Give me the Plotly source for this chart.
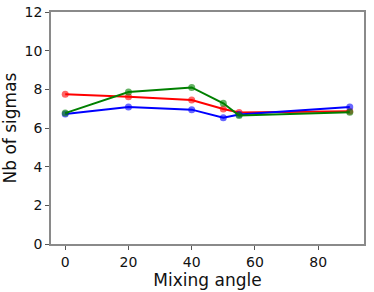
import plotly.graph_objects as go

angles = [0, 20, 40, 50, 55, 90]
red_vals = [7.75, 7.62, 7.45, 6.98, 6.80, 6.87]
blue_vals = [6.73, 7.08, 6.95, 6.53, 6.70, 7.08]
green_vals = [6.77, 7.86, 8.10, 7.28, 6.65, 6.82]

fig = go.Figure()
for vals, col in [(red_vals, "red"), (blue_vals, "blue"), (green_vals, "green")]:
    fig.add_trace(go.Scatter(
        x=angles, y=vals, mode="lines+markers",
        line=dict(color=col, width=2),
        marker=dict(color=col, size=7, opacity=0.6, line=dict(width=0)),
        showlegend=False))

axis_common = dict(showgrid=False, zeroline=False, showline=True, mirror=True,
                   linecolor="#8a8a8a", linewidth=1.5, ticks="outside", ticklen=4,
                   tickcolor="#555", automargin=False,
                   tickfont=dict(family="DejaVu Sans", size=14, color="#111"))
fig.update_xaxes(range=[-4.5, 94.5], tickvals=[0, 20, 40, 60, 80],
                 title=dict(text="Mixing angle", font=dict(family="DejaVu Sans", size=17, color="#111"), standoff=0),
                 **axis_common)
fig.update_yaxes(range=[0, 12], tickvals=[0, 2, 4, 6, 8, 10, 12],
                 title=dict(text="Nb of sigmas", font=dict(family="DejaVu Sans", size=17, color="#111"), standoff=4),
                 **axis_common)
fig.update_layout(width=374, height=292, margin=dict(l=51, r=10, t=12, b=48),
                  plot_bgcolor="white", paper_bgcolor="white")
fig.write_html("out.html", config={"displayModeBar": False},
               post_script="document.body.style.margin='0';document.body.style.padding='0';document.body.style.overflow='hidden';")
